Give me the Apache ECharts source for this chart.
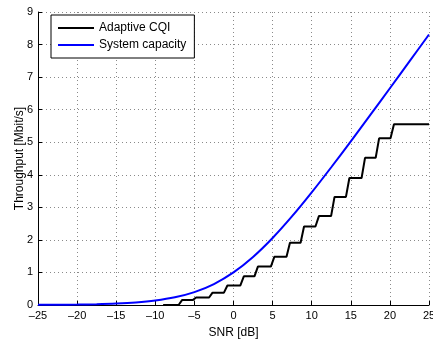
<!DOCTYPE html>
<html>
<head>
<meta charset="utf-8">
<script src="https://cdn.jsdelivr.net/npm/echarts@6/dist/echarts.min.js"></script>
<style>
  html, body { margin: 0; padding: 0; background: #fff; }
  #chart { width: 433px; height: 341px; }
</style>
</head>
<body>
<div id="chart"></div>
<script>
// system capacity, read every 2.5 dB
const capSnr = [-25, -22.5, -20, -17.5, -15, -12.5, -10, -7.5, -5, -2.5, 0, 2.5, 5, 7.5, 10, 12.5, 15, 17.5, 20, 22.5, 25];
const capValues = [0.005, 0.008, 0.014, 0.025, 0.045, 0.079, 0.138, 0.236, 0.396, 0.644, 1.0, 1.474, 2.057, 2.727, 3.459, 4.231, 5.028, 5.839, 6.658, 7.482, 8.309];

// adaptive CQI staircase: SNR where each step happens and the level after it
const cqiStart = -9;
const cqiEnd = 25;
const cqiSteps = [-6.8, -5.0, -2.9, -1.0, 1.1, 2.9, 5.0, 7.0, 8.8, 10.7, 12.7, 14.6, 16.6, 18.4, 20.3];
const cqiLevels = [0.15, 0.23, 0.38, 0.60, 0.88, 1.18, 1.48, 1.91, 2.41, 2.73, 3.32, 3.90, 4.52, 5.12, 5.55];

const xTicks = [-25, -20, -15, -10, -5, 0, 5, 10, 15, 20, 25];

const capData = capSnr.map((s, i) => [s, capValues[i]]);

const ramp = 0.22;
const cqiData = [[cqiStart, 0]];
let prev = 0;
cqiSteps.forEach((s, i) => {
  cqiData.push([s - ramp, prev]);
  cqiData.push([s + ramp, cqiLevels[i]]);
  prev = cqiLevels[i];
});
cqiData.push([cqiEnd, prev]);

const font = 'Liberation Sans, Arial, Helvetica, sans-serif';
const dotted = { color: '#8a8a8a', width: 1, type: [1, 3] };

const chart = echarts.init(document.getElementById('chart'));
chart.setOption({
  animation: false,
  backgroundColor: '#fff',
  grid: { left: 38, right: 4, top: 12, bottom: 36, containLabel: false, outerBoundsMode: 'none' },
  legend: {
    orient: 'vertical',
    left: 51,
    top: 15,
    padding: [6, 8, 6, 7],
    itemGap: 3,
    itemWidth: 36,
    itemHeight: 2,
    icon: 'rect',
    borderColor: '#000',
    borderWidth: 1,
    backgroundColor: '#fff',
    textStyle: { fontFamily: font, fontSize: 12, color: '#000', lineHeight: 14 },
    data: ['Adaptive CQI', 'System capacity']
  },
  xAxis: {
    type: 'value',
    min: -25,
    max: 25,
    interval: 5,
    name: 'SNR [dB]',
    nameLocation: 'middle',
    nameGap: 22,
    nameMoveOverlap: false,
    nameTextStyle: { fontFamily: font, fontSize: 12, color: '#000' },
    axisLine: { onZero: false, lineStyle: { color: '#000', width: 1 } },
    axisTick: { inside: true, length: 4, lineStyle: { color: '#000' } },
    axisLabel: {
      fontFamily: font, fontSize: 11, color: '#000', margin: 5,
      formatter: (v) => (xTicks.includes(v) ? String(v).replace('-', '\u2013') : '')
    },
    splitLine: { show: true, lineStyle: dotted }
  },
  yAxis: {
    type: 'value',
    min: 0,
    max: 9,
    interval: 1,
    name: 'Throughput [Mbit/s]',
    nameLocation: 'middle',
    nameGap: 12,
    nameMoveOverlap: false,
    nameTextStyle: { fontFamily: font, fontSize: 12, color: '#000' },
    axisLine: { show: true, onZero: false, lineStyle: { color: '#000', width: 1 } },
    axisTick: { show: true, inside: true, length: 4, lineStyle: { color: '#000' } },
    axisLabel: { fontFamily: font, fontSize: 11, color: '#000', margin: 5 },
    splitLine: { show: true, lineStyle: dotted }
  },
  series: [
    {
      name: 'Adaptive CQI',
      type: 'line',
      data: cqiData,
      symbol: 'none',
      lineStyle: { color: '#000', width: 2 },
      itemStyle: { color: '#000' },
      z: 3
    },
    {
      name: 'System capacity',
      type: 'line',
      data: capData,
      smooth: 0.3,
      symbol: 'none',
      lineStyle: { color: '#0000ff', width: 2 },
      itemStyle: { color: '#0000ff' },
      z: 4
    }
  ]
});
</script>
</body>
</html>
